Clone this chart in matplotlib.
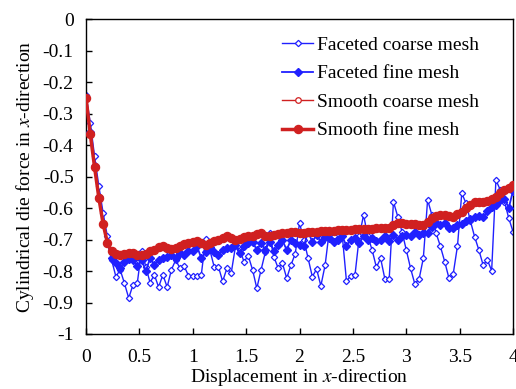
import numpy as np
import matplotlib
matplotlib.use("Agg")
import matplotlib.pyplot as plt

plt.rcParams['font.family'] = ['Liberation Serif', 'DejaVu Serif']
plt.rcParams['mathtext.fontset'] = 'stix'
plt.rcParams['axes.unicode_minus'] = False

# ---------------- Data ------------------------------------------
step = 0.04
disp = np.round(np.arange(101) * step, 2)

faceted_coarse = [
    -0.24, -0.33, -0.435, -0.53, -0.615, -0.69, -0.765, -0.818, -0.796, -0.839,
    -0.886, -0.844, -0.839, -0.735, -0.786, -0.837, -0.812, -0.851, -0.812, -0.851,
    -0.796, -0.765, -0.791, -0.785, -0.815, -0.815, -0.815, -0.812, -0.699, -0.733,
    -0.786, -0.786, -0.833, -0.791, -0.807, -0.722, -0.733, -0.770, -0.752, -0.796,
    -0.855, -0.796, -0.740, -0.678, -0.755, -0.791, -0.775, -0.823, -0.781, -0.745,
    -0.648, -0.700, -0.759, -0.818, -0.794, -0.847, -0.781, -0.670, -0.690, -0.700,
    -0.685, -0.833, -0.815, -0.812, -0.690, -0.622, -0.690, -0.733, -0.788, -0.760,
    -0.826, -0.826, -0.580, -0.627, -0.675, -0.733, -0.791, -0.841, -0.826, -0.759,
    -0.574, -0.622, -0.680, -0.722, -0.770, -0.823, -0.809, -0.720, -0.553, -0.585,
    -0.640, -0.691, -0.733, -0.781, -0.765, -0.799, -0.511, -0.542, -0.580, -0.632,
    -0.675]

faceted_fine = [
    -0.25, -0.36, -0.465, -0.565, -0.65, -0.71, -0.76, -0.775, -0.79, -0.77,
    -0.763, -0.765, -0.785, -0.765, -0.80, -0.76, -0.78, -0.765, -0.76, -0.756,
    -0.748, -0.758, -0.742, -0.75, -0.735, -0.738, -0.722, -0.759, -0.74, -0.725,
    -0.74, -0.748, -0.733, -0.727, -0.728, -0.717, -0.743, -0.722, -0.712, -0.707,
    -0.733, -0.712, -0.733, -0.707, -0.738, -0.717, -0.703, -0.733, -0.70, -0.712,
    -0.717, -0.722, -0.676, -0.707, -0.686, -0.707, -0.691, -0.696, -0.707, -0.70,
    -0.69, -0.72, -0.70, -0.695, -0.712, -0.69, -0.70, -0.695, -0.705, -0.70,
    -0.69, -0.705, -0.685, -0.70, -0.69, -0.685, -0.69, -0.675, -0.685, -0.68,
    -0.68, -0.66, -0.648, -0.655, -0.648, -0.662, -0.664, -0.655, -0.65, -0.64,
    -0.635, -0.628, -0.625, -0.63, -0.61, -0.598, -0.59, -0.575, -0.57, -0.60,
    -0.545]

smooth_coarse = [
    -0.25, -0.362, -0.468, -0.566, -0.648, -0.708, -0.74, -0.747, -0.75, -0.748,
    -0.744, -0.745, -0.749, -0.75, -0.746, -0.74, -0.733, -0.727, -0.723, -0.728,
    -0.731, -0.729, -0.721, -0.716, -0.713, -0.709, -0.707, -0.713, -0.716, -0.711,
    -0.705, -0.701, -0.696, -0.691, -0.695, -0.70, -0.698, -0.694, -0.691, -0.689,
    -0.684, -0.681, -0.688, -0.69, -0.686, -0.683, -0.681, -0.679, -0.676, -0.677,
    -0.68, -0.679, -0.677, -0.676, -0.675, -0.675, -0.674, -0.673, -0.672, -0.672,
    -0.671, -0.67, -0.67, -0.669, -0.668, -0.668, -0.667, -0.667, -0.666, -0.665,
    -0.665, -0.664, -0.656, -0.649, -0.65, -0.651, -0.652, -0.653, -0.654, -0.655,
    -0.646, -0.633, -0.625, -0.623, -0.624, -0.626, -0.627, -0.621, -0.613, -0.601,
    -0.591, -0.583, -0.581, -0.581, -0.58, -0.573, -0.566, -0.554, -0.544, -0.536,
    -0.528]

smooth_fine = [
    -0.25, -0.365, -0.47, -0.567, -0.65, -0.71, -0.738, -0.745, -0.749, -0.747,
    -0.742, -0.744, -0.748, -0.749, -0.745, -0.738, -0.732, -0.725, -0.722, -0.727,
    -0.731, -0.728, -0.72, -0.715, -0.712, -0.708, -0.706, -0.712, -0.716, -0.71,
    -0.704, -0.70, -0.695, -0.69, -0.694, -0.70, -0.698, -0.693, -0.69, -0.688,
    -0.683, -0.68, -0.688, -0.69, -0.686, -0.682, -0.68, -0.678, -0.675, -0.676,
    -0.68, -0.678, -0.676, -0.675, -0.675, -0.674, -0.673, -0.672, -0.672, -0.671,
    -0.67, -0.67, -0.669, -0.668, -0.668, -0.667, -0.667, -0.666, -0.665, -0.665,
    -0.664, -0.663, -0.655, -0.648, -0.649, -0.65, -0.651, -0.652, -0.653, -0.654,
    -0.645, -0.632, -0.624, -0.622, -0.623, -0.625, -0.627, -0.62, -0.612, -0.60,
    -0.59, -0.582, -0.58, -0.58, -0.579, -0.572, -0.565, -0.553, -0.543, -0.535,
    -0.527]

labels = ["Faceted coarse mesh", "Faceted fine mesh",
          "Smooth coarse mesh", "Smooth fine mesh"]
x_ticks = [0, 0.5, 1, 1.5, 2, 2.5, 3, 3.5, 4]
y_ticks = [0, -0.1, -0.2, -0.3, -0.4, -0.5, -0.6, -0.7, -0.8, -0.9, -1]

# ---------------- Plot -----------------
blue = '#2020ff'
red = '#d02020'
fs = 14

fig = plt.figure(figsize=(5.16, 3.89), dpi=100)
ax = fig.add_axes([0.1667, 0.1414, 0.8275, 0.8096])

ax.plot(disp, faceted_coarse, color=blue, lw=1.0, marker='D', ms=3.2,
        mfc='white', mec=blue, mew=0.9, label=labels[0], zorder=2)
ax.plot(disp, faceted_fine, color=blue, lw=1.3, marker='D', ms=3.8,
        mfc=blue, mec=blue, label=labels[1], zorder=3)
ax.plot(disp, smooth_coarse, color=red, lw=1.0, marker='o', ms=4,
        mfc='white', mec=red, mew=0.9, label=labels[2], zorder=4)
ax.plot(disp, smooth_fine, color=red, lw=2.5, marker='o', ms=5.8,
        mfc=red, mec=red, label=labels[3], zorder=5)

ax.set_xlim(0, 4)
ax.set_ylim(-1, 0)
ax.set_xticks(x_ticks)
ax.set_xticklabels([f"{t:g}" for t in x_ticks])
ax.set_yticks(y_ticks)
ax.set_yticklabels([f"{t:g}" for t in y_ticks])
ax.tick_params(direction='in', length=4, width=1, labelsize=fs,
               top=False, right=False)
ax.tick_params(axis='y', pad=9)
ax.tick_params(axis='x', pad=11)
for s in ax.spines.values():
    s.set_linewidth(1.0)

ax.set_xlabel("Displacement in $x$-direction", fontsize=fs, labelpad=0.5)
ax.set_ylabel("Cylindrical die force in $x$-direction", fontsize=fs, labelpad=5)

ax.legend(loc='upper left', frameon=False, fontsize=fs, numpoints=1,
          handlelength=1.6, handletextpad=0.2, labelspacing=0.56,
          borderpad=0, borderaxespad=0, bbox_to_anchor=(0.459, 0.945))

fig.savefig("out.png", dpi=100)
